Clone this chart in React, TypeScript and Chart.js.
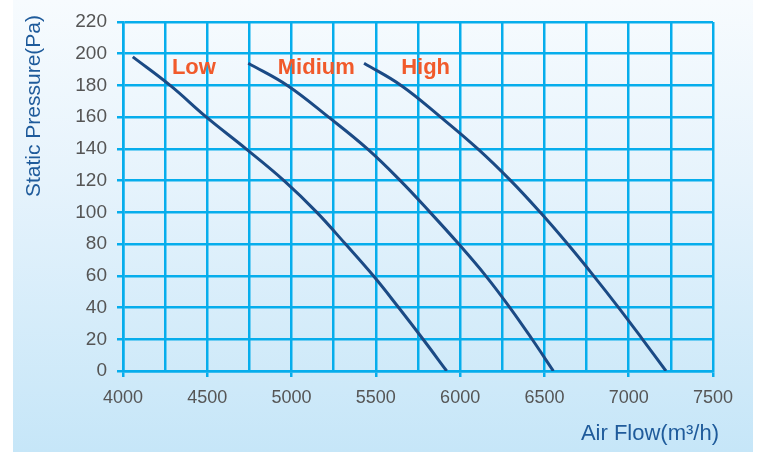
import React, { useEffect, useRef } from 'react';
import { Chart, registerables } from 'chart.js';

Chart.register(...registerables);

// Static pressure (Pa)
const pressureLow = [198, 180, 160, 140, 120, 100, 80, 60, 40, 20, 0];
const flowLow = [4058, 4280, 4495, 4730, 4955, 5150, 5320, 5485, 5635, 5780, 5920];

const pressureMid = [194, 180, 160, 140, 120, 100, 80, 60, 40, 20, 0];
const flowMid = [4743, 4975, 5220, 5450, 5645, 5822, 5992, 6152, 6295, 6427, 6553];

const pressureHigh = [194, 180, 160, 140, 120, 100, 80, 60, 40, 20, 0];
const flowHigh = [5430, 5650, 5885, 6105, 6300, 6475, 6638, 6792, 6940, 7082, 7221];

const seriesNames = ['Low', 'Midium', 'High'];
const nameFlow = [4290, 4918, 5650];
const namePressure = 187;

const xMin = 4000;
const xMax = 7500;
const xStep = 250;
const xLabelStep = 500;
const yMin = 0;
const yMax = 220;
const yStep = 20;

const yTitle = 'Static Pressure(Pa)';
const xTitle = 'Air Flow(m³/h)';

const GRID = '#06adec';
const CURVE = '#1b4a85';
const TITLE = '#1f5b9b';
const LABEL = '#f15a2b';
const TICK = '#555555';
const FONT = '"Liberation Sans", Arial, Helvetica, sans-serif';

const toPoints = (xs: number[], ys: number[]) => xs.map((x, i) => ({ x, y: ys[i] }));

export default function App() {
  const ref = useRef<HTMLCanvasElement>(null);

  useEffect(() => {
    const textPlugin = {
      id: 'textPlugin',
      afterDraw(chart: any) {
        const ctx = chart.ctx;
        const xs = chart.scales.x;
        const ys = chart.scales.y;
        ctx.save();
        ctx.fillStyle = LABEL;
        ctx.font = `bold 22px ${FONT}`;
        ctx.textAlign = 'left';
        ctx.textBaseline = 'alphabetic';
        seriesNames.forEach((n, i) => {
          ctx.fillText(n, xs.getPixelForValue(nameFlow[i]), ys.getPixelForValue(namePressure));
        });
        ctx.fillStyle = TITLE;
        ctx.font = `21px ${FONT}`;
        ctx.translate(34, 106);
        ctx.rotate(-Math.PI / 2);
        ctx.textAlign = 'center';
        ctx.textBaseline = 'middle';
        ctx.fillText(yTitle, 0, 0);
        ctx.restore();
        ctx.save();
        ctx.fillStyle = TITLE;
        ctx.font = `22px ${FONT}`;
        ctx.textAlign = 'right';
        ctx.textBaseline = 'alphabetic';
        ctx.fillText(xTitle, 719, 440);
        ctx.restore();
      },
    };

    const chart = new Chart(ref.current as HTMLCanvasElement, {
      type: 'line',
      data: {
        datasets: [
          { label: seriesNames[0], data: toPoints(flowLow, pressureLow) },
          { label: seriesNames[1], data: toPoints(flowMid, pressureMid) },
          { label: seriesNames[2], data: toPoints(flowHigh, pressureHigh) },
        ].map((d) => ({
          ...d,
          borderColor: CURVE,
          borderWidth: 3,
          pointRadius: 0,
          fill: false,
          tension: 0.4,
        })),
      },
      options: {
        responsive: false,
        animation: false,
        events: [],
        layout: { padding: { left: 63, right: 44, top: 22, bottom: 24 } },
        plugins: { legend: { display: false }, tooltip: { enabled: false }, title: { display: false } },
        scales: {
          x: {
            type: 'linear',
            min: xMin,
            max: xMax,
            afterFit: (s: any) => { s.height = 60; },
            afterBuildTicks: (s: any) => {
              const t = [];
              for (let v = xMin; v <= xMax; v += xStep) t.push({ value: v });
              s.ticks = t;
            },
            ticks: {
              autoSkip: false,
              maxRotation: 0,
              color: TICK,
              padding: 10,
              font: { family: FONT, size: 18 },
              callback: (v: any) => (Number(v) % xLabelStep === 0 ? String(v) : ''),
            },
            grid: {
              color: GRID,
              lineWidth: 2.5,
              tickLength: 6,
              tickWidth: 2.5,
              tickColor: (c: any) => (c.tick && c.tick.value % xLabelStep === 0 ? GRID : 'rgba(0,0,0,0)'),
            },
            border: { color: GRID, width: 2.5 },
          },
          y: {
            type: 'linear',
            min: yMin,
            max: yMax,
            afterFit: (s: any) => { s.width = 60; },
            ticks: {
              stepSize: yStep,
              color: TICK,
              padding: 10,
              font: { family: FONT, size: 19 },
            },
            grid: { color: GRID, lineWidth: 2.5, tickLength: 6, tickWidth: 2.5, tickColor: GRID },
            border: { color: GRID, width: 2.5 },
          },
        },
      },
      plugins: [textPlugin],
    } as any);
    return () => chart.destroy();
  }, []);

  return (
    <div style={{ position: 'absolute', left: 0, top: 0, width: 757, height: 455, background: '#ffffff', overflow: 'hidden' }}>
      <div
        style={{
          position: 'absolute',
          left: 13,
          top: 0,
          width: 740,
          height: 452,
          background: 'linear-gradient(to bottom, #f7fbfe 0%, #e6f3fc 40%, #c6e6f8 100%)',
        }}
      />
      <canvas ref={ref} width={757} height={455} style={{ position: 'absolute', left: 0, top: 0, width: 757, height: 455 }} />
    </div>
  );
}
